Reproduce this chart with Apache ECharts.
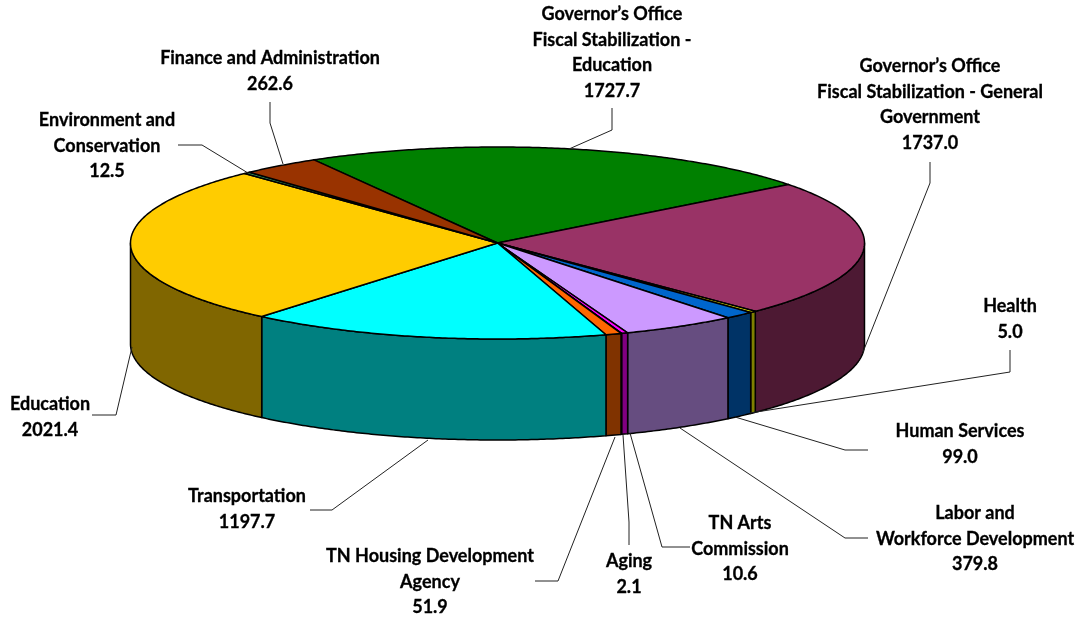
<!DOCTYPE html>
<html>
<head>
<meta charset="utf-8">
<style>
  html, body { margin: 0; padding: 0; background: #fff; }
  #chart { width: 1083px; height: 619px; }
</style>
</head>
<body>
<div id="chart"></div>
<script src="https://cdn.jsdelivr.net/npm/echarts@6/dist/echarts.min.js"></script>
<script>
// clockwise, starting at the green slice
var names = [
  "Governor\u2019s Office\nFiscal Stabilization -\nEducation",
  "Governor\u2019s Office\nFiscal Stabilization - General\nGovernment",
  "Health",
  "Human Services",
  "Labor and\nWorkforce Development",
  "TN Arts\nCommission",
  "Aging",
  "TN Housing Development\nAgency",
  "Transportation",
  "Education",
  "Environment and\nConservation",
  "Finance and Administration"
];
var values = [1727.7, 1737.0, 5.0, 99.0, 379.8, 10.6, 2.1, 51.9, 1197.7, 2021.4, 12.5, 262.6];
var topColors = ["#008000", "#993366", "#FFFF00", "#0066CC", "#CC99FF", "#FF00FF", "#000080", "#FF6600", "#00FFFF", "#FFCC00", "#339966", "#993300"];
var wallColors = ["#004000", "#4D1933", "#808000", "#003366", "#664D80", "#800080", "#000040", "#803300", "#008080", "#806600", "#1A4D33", "#4D1900"];

// label placement: text centre x, first line y
var labelSpots = [[612, 14], [930, 66], [1010, 306], [960, 431], [975, 513], [740, 523], [629, 561], [430, 556], [247, 496], [50, 404], [107, 120], [270, 58]];
// leader lines, from label to slice edge
var leaders = [
  [[612, 108], [612, 130], [569, 149]],
  [[930, 162], [930, 183], [863, 352]],
  [[1010, 350], [1010, 372], [750, 413]],
  [[868, 450], [845, 450], [735, 417]],
  [[868, 538], [845, 538], [680, 428]],
  [[690, 547], [662, 547], [630, 433]],
  [[629, 545], [629, 522], [623, 435]],
  [[535, 581], [558, 581], [615, 437]],
  [[310, 510], [332, 510], [428, 440]],
  [[92, 415], [116, 415], [132, 347]],
  [[178, 145], [202, 145], [248, 173]],
  [[270, 102], [270, 123], [283, 164]]
];

var cx = 497.5, cy = 243, rx = 367, ry = 96, depth = 101;
var startAngle = -30;
var lineGap = 25.7;
// very thin slices are widened to stay visible, like pie minAngle;
// anything under hairlineValue stays a hairline
var minAngle = 1, hairlineValue = 5;

var total = values.reduce(function (a, b) { return a + b; }, 0);

var sweeps = (function () {
  var raw = values.map(function (v) { return v / total * 360; });
  var floored = raw.map(function (a, i) { return values[i] >= hairlineValue && a < minAngle; });
  var fixedSum = 0, restSum = 0;
  raw.forEach(function (a, i) {
    if (floored[i]) fixedSum += minAngle; else restSum += a;
  });
  var scale = (360 - fixedSum) / restSum;
  return raw.map(function (a, i) { return floored[i] ? minAngle : a * scale; });
})();

function ellipsePoint(deg, drop) {
  var r = deg * Math.PI / 180;
  return [cx + rx * Math.sin(r), cy - ry * Math.cos(r) + (drop || 0)];
}

function arcPoints(from, to, drop) {
  var pts = [];
  var steps = Math.max(2, Math.ceil(Math.abs(to - from) * 2));
  for (var i = 0; i <= steps; i++) {
    pts.push(ellipsePoint(from + (to - from) * i / steps, drop));
  }
  return pts;
}

function renderSlice(params, api) {
  var i = params.dataIndex;
  var a0 = startAngle;
  for (var k = 0; k < i; k++) a0 += sweeps[k];
  var a1 = a0 + sweeps[i];
  var children = [];

  // only the front half of the rim shows a wall
  var w0 = Math.max(a0, 90), w1 = Math.min(a1, 270);
  if (w1 > w0) {
    children.push({
      type: "polygon",
      shape: { points: arcPoints(w0, w1, 0).concat(arcPoints(w1, w0, depth)) },
      style: { fill: wallColors[i], stroke: "#000", lineWidth: 1.5, lineJoin: "round" }
    });
  }
  children.push({
    type: "polygon",
    shape: { points: [[cx, cy]].concat(arcPoints(a0, a1, 0)) },
    style: { fill: topColors[i], stroke: "#000", lineWidth: 1.5, lineJoin: "round" }
  });
  return { type: "group", children: children };
}

function renderLabel(params, api) {
  var i = params.dataIndex;
  var lines = names[i].split("\n");
  lines.push(api.value(0).toFixed(1));
  var children = [{
    type: "polyline",
    shape: { points: leaders[i] },
    style: { fill: null, stroke: "#222", lineWidth: 1 }
  }];
  lines.forEach(function (line, n) {
    children.push({
      type: "text",
      style: {
        x: labelSpots[i][0],
        y: labelSpots[i][1] + n * lineGap,
        text: line,
        fill: "#000",
        stroke: "#000",
        lineWidth: 0.3,
        font: "bold 18px Lato, sans-serif",
        align: "center",
        verticalAlign: "middle"
      }
    });
  });
  return { type: "group", children: children };
}

var chart = echarts.init(document.getElementById("chart"), null, { renderer: "canvas" });
var seriesData = values.map(function (v) { return [v]; });
chart.setOption({
  animation: false,
  backgroundColor: "#fff",
  series: [
    { type: "custom", coordinateSystem: "none", silent: true, renderItem: renderSlice, data: seriesData, z: 2 },
    { type: "custom", coordinateSystem: "none", silent: true, renderItem: renderLabel, data: seriesData, z: 3 }
  ]
});
</script>
</body>
</html>
